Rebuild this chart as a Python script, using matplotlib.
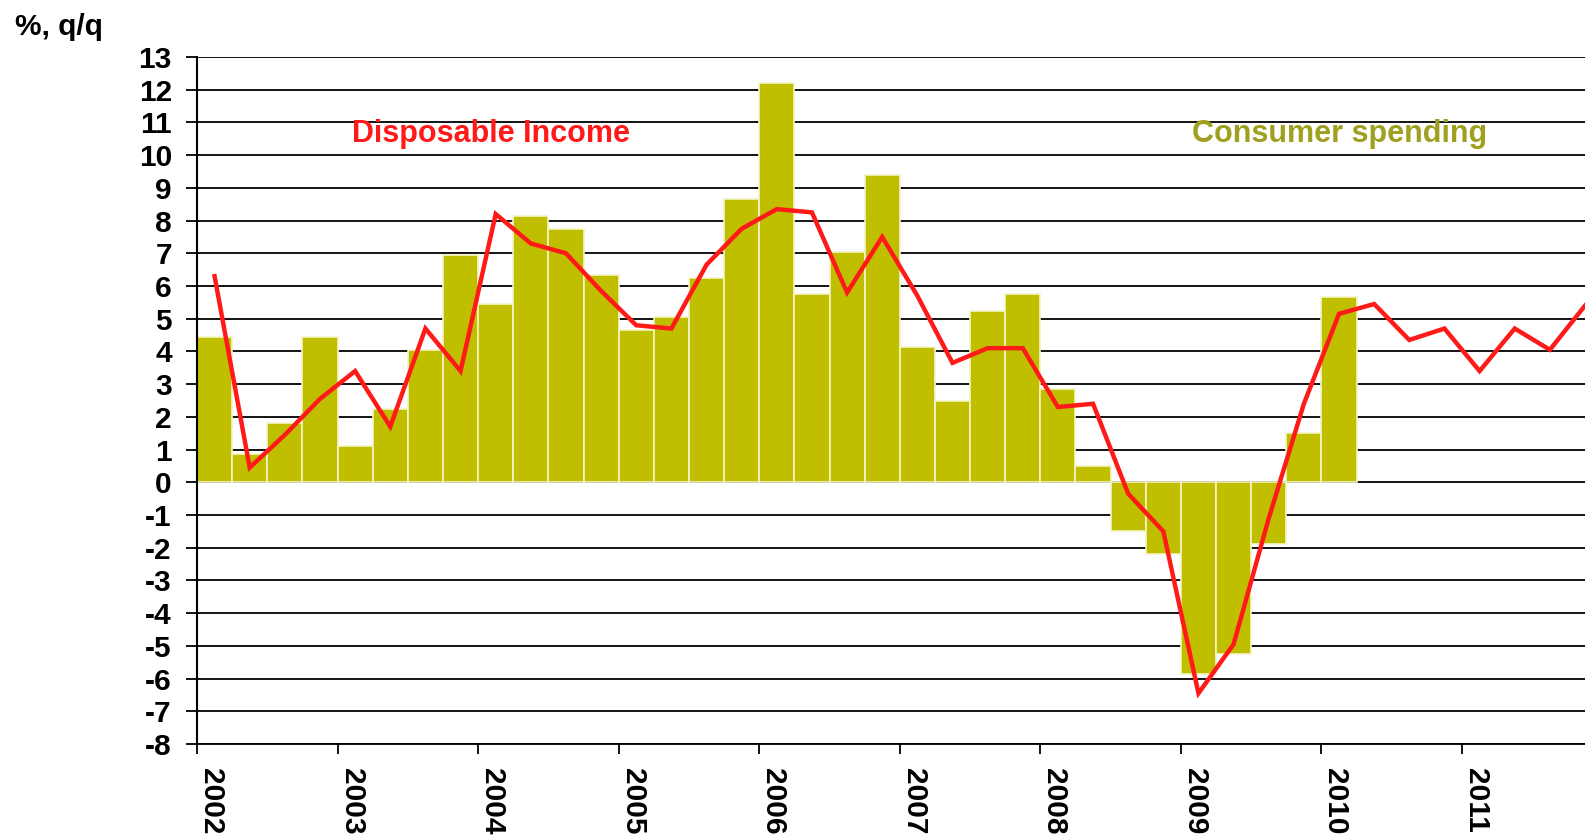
import numpy as np
import matplotlib
matplotlib.use('agg')
from matplotlib import pyplot as plt
from matplotlib import transforms

plt.rcParams['font.family'] = ['Liberation Sans', 'DejaVu Sans']
plt.rcParams['font.weight'] = 'bold'
plt.rcParams['axes.unicode_minus'] = False

# quarterly % q/q, starting 2002 Q1
spending = [4.45, 0.85, 1.8, 4.45,
            1.1, 2.25, 4.05, 6.95,
            5.45, 8.15, 7.75, 6.35,
            4.65, 5.05, 6.25, 8.65,
            12.2, 5.75, 7.05, 9.4,
            4.15, 2.5, 5.25, 5.75,
            2.85, 0.5, -1.5, -2.2,
            -5.85, -5.25, -1.9, 1.5,
            5.65]
income = [6.3, 0.45, 1.45, 2.55,
          3.4, 1.7, 4.7, 3.4,
          8.2, 7.3, 7.0, 5.85,
          4.8, 4.7, 6.65, 7.75,
          8.35, 8.25, 5.8, 7.5,
          5.7, 3.65, 4.1, 4.1,
          2.3, 2.4, -0.35, -1.5,
          -6.45, -4.95, -1.1, 2.4,
          5.15, 5.45, 4.35, 4.7,
          3.4, 4.7, 4.05, 5.4]
years = list(range(2002, 2012))
start_year = 2002

bar_color = '#bfbf00'
line_color = '#ff1a1a'


def quarter_centers(n):
    return start_year + (np.arange(n) + 0.5) / 4.0


fig = plt.figure(figsize=(15.85, 8.35), dpi=100)
ax = fig.add_axes([197 / 1585, 1 - 744 / 835, 1 - 197 / 1585, (744 - 57) / 835])

ax.set_axisbelow(True)
ax.yaxis.grid(True, color='black', linewidth=1.3)

ax.bar(quarter_centers(len(spending)), spending, width=0.25, color=bar_color,
       edgecolor='#f4f4c8', linewidth=1.2, zorder=2)
ax.plot(quarter_centers(len(income)), income, color=line_color, linewidth=3.2,
        zorder=3, solid_joinstyle='miter')

ax.set_xlim(start_year, start_year + (len(income) - 0.5) / 4.0)
ax.set_ylim(-8, 13)
ax.set_yticks(range(-8, 14))
ax.set_xticks(years)
ax.set_xticklabels([str(y) for y in years], rotation=-90, ha='left', va='top')
offset = transforms.ScaledTranslation(2 / 100, 0, fig.dpi_scale_trans)
for lbl in ax.get_xticklabels():
    lbl.set_transform(lbl.get_transform() + offset)

ax.tick_params(axis='y', direction='out', length=8, width=1.3, pad=10, labelsize=21.5)
ax.tick_params(axis='x', direction='out', length=7, width=1.3, pad=10, labelsize=21.5)

for side in ['top', 'right']:
    ax.spines[side].set_visible(False)
ax.spines['left'].set_linewidth(1.5)
ax.spines['bottom'].set_linewidth(1.3)

ax.text(2004.09, 10.65, 'Disposable Income', color='#ff1a1a', fontsize=22,
        fontweight='bold', ha='center', va='center')
ax.text(2010.13, 10.65, 'Consumer spending', color='#a0a020', fontsize=22,
        fontweight='bold', ha='center', va='center')

fig.text(15 / 1585, 1 - 35 / 835, '%, q/q', fontsize=21.5, fontweight='bold',
         ha='left', va='baseline')

plt.savefig('out.png', dpi=100)
